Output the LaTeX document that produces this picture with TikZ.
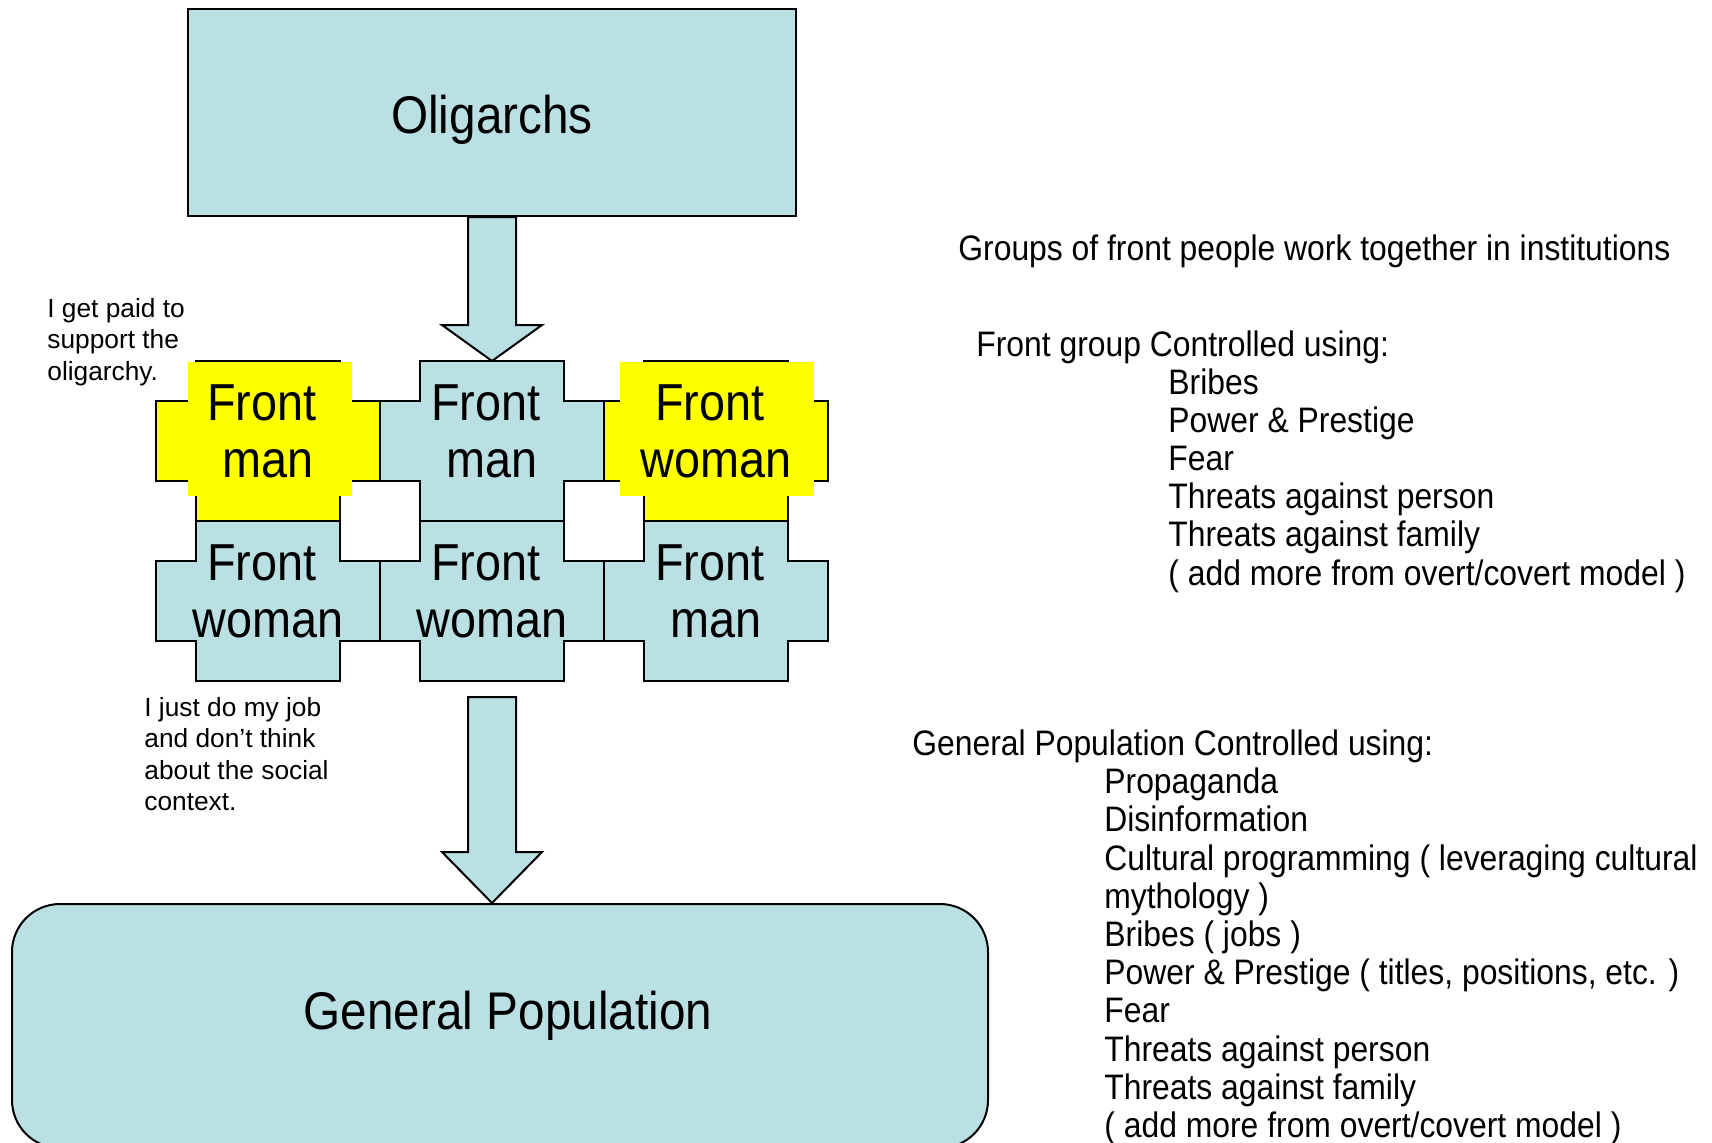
\documentclass[tikz,border=0pt]{standalone}
\usepackage{fontspec}
\setmainfont{Liberation Sans}
\newfontfamily\condf{Liberation Sans}[FakeStretch=0.9]
\usetikzlibrary{calc}
\definecolor{lblue}{RGB}{187,224,227}
\definecolor{fyellow}{RGB}{255,255,0}
\pgfdeclarelayer{back}
\pgfdeclarelayer{arr}
\pgfsetlayers{back,arr,main}
\newcommand\puzzlepiece[2]{%
  \filldraw[outline,fill=#2] (#1.north west) -- (#1.north east) -- ++(0,40) -- ++(40,0)
    -- ++(0,80) -- ++(-40,0) -- (#1.south east) -- (#1.south west) -- ++(0,-40)
    -- ++(-40,0) -- ++(0,-80) -- ++(40,0) -- cycle;}
\begin{document}
\begin{tikzpicture}[x=0.5pt,y=-0.5pt,
  outline/.style={draw=black,line width=1pt,line join=miter},
  body/.style={minimum width=72pt,minimum height=80pt,inner sep=0pt,outer sep=0pt},
  ptext/.style={font=\condf\fontsize{26}{28.5}\selectfont,align=center,inner sep=0pt,anchor=base},
  rtext/.style={font=\condf\fontsize{17.7}{19.1}\selectfont,anchor=base west,inner sep=0pt},
  small/.style={font=\fontsize{13.15}{15.8}\selectfont,align=left,anchor=base west,inner sep=0pt},
  barrow/.style={outline,fill=lblue},
]
\useasboundingbox (0,0) rectangle (1712,1142);
\begin{pgfonlayer}{back}
\fill[white] (0,0) rectangle (1712,1142);
\end{pgfonlayer}

% Oligarchs box
\node[outline,fill=lblue,minimum width=304pt,minimum height=103.5pt,inner sep=0pt,
      font=\condf\fontsize{26.5}{30}\selectfont,text height=20.5pt,text depth=0pt]
  (olig) at (492,112.5) {Oligarchs};

% puzzle bodies
\node[body] (b11) at (268,441) {};
\node[body] (b12) at (492,441) {};
\node[body] (b13) at (716,441) {};
\node[body] (b21) at (268,601) {};
\node[body] (b22) at (492,601) {};
\node[body] (b23) at (716,601) {};

\puzzlepiece{b11}{fyellow}
\puzzlepiece{b12}{lblue}
\puzzlepiece{b13}{fyellow}
\puzzlepiece{b21}{lblue}
\puzzlepiece{b22}{lblue}
\puzzlepiece{b23}{lblue}

% yellow text highlights
\fill[fyellow] (188,361.5) rectangle (352,496);
\fill[fyellow] (620,361.5) rectangle (814,496);

% multi-line nodes: base anchor = baseline of the last line
\node[ptext] (t11) at (268,477) {Front\kern6pt\\man};
\node[ptext] (t12) at (492,477) {Front\kern6pt\\man};
\node[ptext] (t13) at (716,477) {Front\kern6pt\\woman};
\node[ptext] (t21) at (268,637) {Front\kern6pt\\woman};
\node[ptext] (t22) at (492,637) {Front\kern6pt\\woman};
\node[ptext] (t23) at (716,637) {Front\kern6pt\\man};

% General Population box
\node[outline,fill=lblue,rounded corners=24pt,minimum width=488pt,minimum height=122pt,inner sep=0pt]
  (gp) at (500,1026) {};
\node[font=\condf\fontsize{26.5}{30}\selectfont,inner sep=0pt,anchor=base]
  (gpl) at (508,1029.6) {General Population};

% block arrows
\coordinate (bs) at ($(b22.south)+(0,16)$);
\coordinate (be) at (bs |- gp.north);
\begin{pgfonlayer}{arr}
\draw[barrow] ($(olig.south)+(-24,0)$) -- ($(b12.north)+(-24,-36)$) -- ($(b12.north)+(-50,-36)$)
  -- (b12.north) -- ($(b12.north)+(50,-36)$) -- ($(b12.north)+(24,-36)$)
  -- ($(olig.south)+(24,0)$) -- cycle;
\draw[barrow] ($(bs)+(-24,0)$) -- ($(be)+(-24,-51)$) -- ($(be)+(-50,-51)$)
  -- (be) -- ($(be)+(50,-51)$) -- ($(be)+(24,-51)$) -- ($(bs)+(24,0)$) -- cycle;
\end{pgfonlayer}

% annotations
\node[small] (ann1) at (47,380.2) {I get paid to\\support the\\oligarchy.};
\node[small] (ann2) at (144,810.8) {I just do my job\\and don’t think\\about the social\\context.};

% right text
\node[rtext] (groups) at (958,260) {Groups of front people work together in institutions};
\node[rtext] (fgc) at (976,356) {Front group Controlled using:};
\foreach \yy/\tt [count=\i] in {394/Bribes, 432.2/Power \& Prestige, 470.4/Fear,
    508.6/Threats against person, 546.8/Threats against family,
    585/{( add more from overt/covert model )}}
  \node[rtext] (fg\i) at (1168,\yy) {\tt};
\node[rtext] (gpc) at (912,755.5) {General Population Controlled using:};
\foreach \yy/\tt [count=\i] in {793.7/Propaganda, 831.9/Disinformation,
    870.1/Cultural programming ( leveraging cultural, 908.3/mythology ),
    946.5/Bribes ( jobs ), 984.7/{Power \& Prestige ( titles, positions, etc. )},
    1022.9/Fear, 1061.1/Threats against person, 1099.3/Threats against family,
    1137.5/{( add more from overt/covert model )}}
  \node[rtext] (gi\i) at (1104,\yy) {\tt};
\end{tikzpicture}
\end{document}
